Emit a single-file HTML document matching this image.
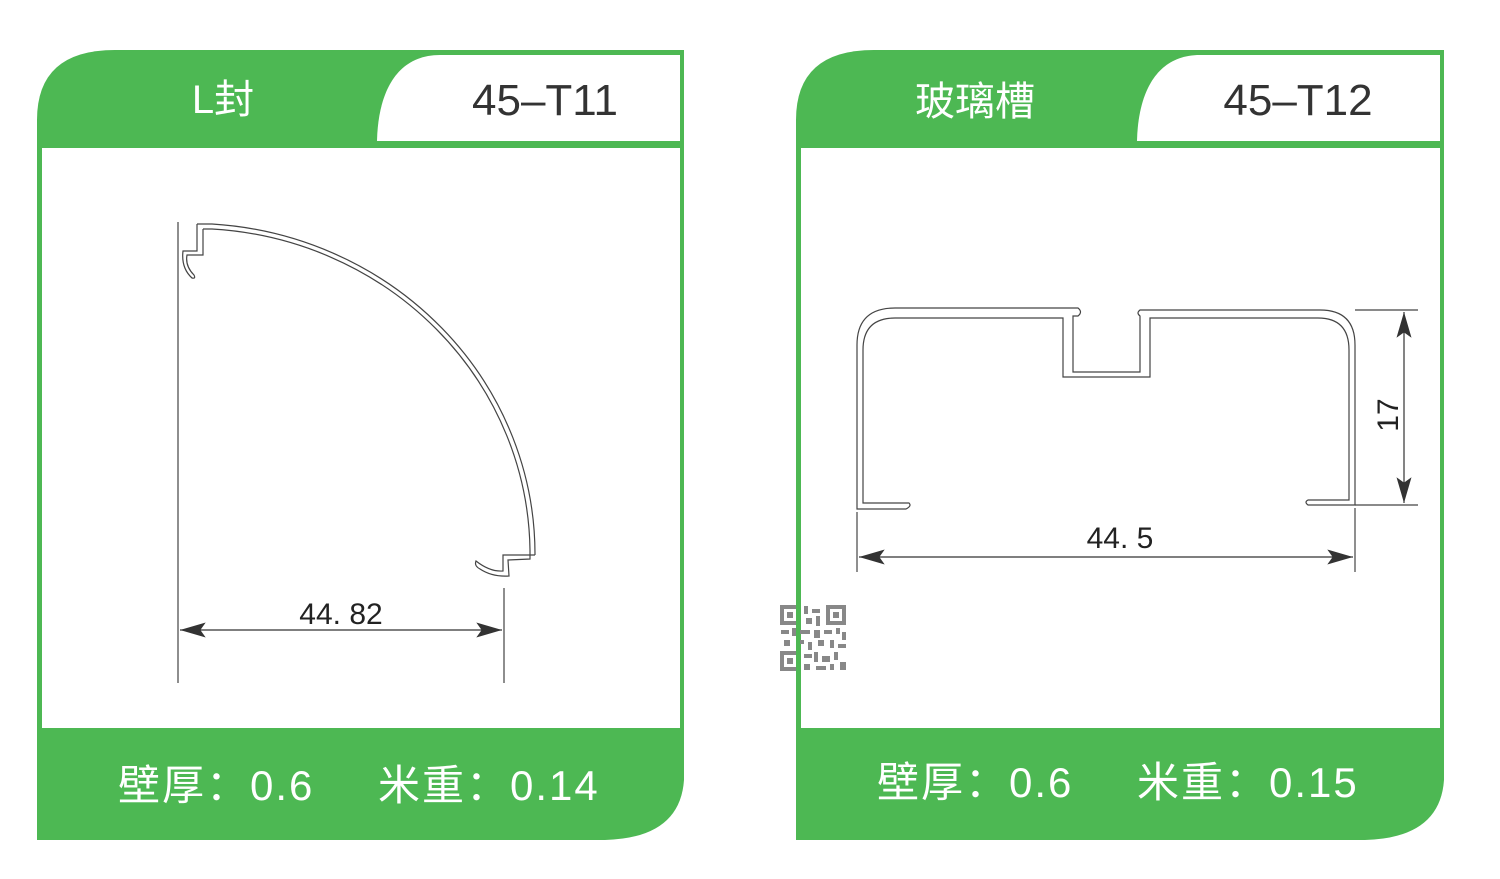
<!DOCTYPE html>
<html><head><meta charset="utf-8"><style>
html,body{margin:0;padding:0;background:#fff;width:1500px;height:879px;overflow:hidden}
svg{display:block}
.cn{font-family:"Liberation Sans","Noto Sans CJK SC",sans-serif}
</style></head><body>
<svg width="1500" height="879" viewBox="0 0 1500 879" xmlns="http://www.w3.org/2000/svg">
<defs>
<marker id="ar" viewBox="0 0 24 14" refX="24" refY="7" markerWidth="26" markerHeight="15" markerUnits="userSpaceOnUse" orient="auto-start-reverse"><path d="M0,0 L24,7 L0,14 L5,7 Z" fill="#333"/></marker>
</defs>
<!-- LEFT CARD -->
<path d="M37,120 Q37,50 115,50 L684,50 L684,780 Q680,838 605,840 L37,840 Z" fill="#4db853"/>
<rect x="42" y="148" width="638" height="580" fill="#fff"/>
<path d="M377,141 C378,95 395,55 440,55 L680,55 L680,141 Z" fill="#fff"/>
<text x="223" y="113" class="cn" font-size="40" fill="#fff" text-anchor="middle">L封</text>
<text x="545" y="115" font-family="Liberation Sans" font-size="44" fill="#333" text-anchor="middle">45–T11</text>
<text x="118" y="800" class="cn" font-size="42" fill="#fff" letter-spacing="2">壁厚：0.6</text>
<text x="378" y="800" class="cn" font-size="42" fill="#fff" letter-spacing="2">米重：0.14</text>

<g fill="none" stroke="#444" stroke-width="1.2">
<line x1="178" y1="222" x2="178" y2="683"/>
<line x1="504" y1="588" x2="504" y2="683"/>
<path d="M197,224 L212,224 A345 331 0 0 1 535 555"/>
<path d="M203,229 L212,229 A338 326 0 0 1 530 550"/>
<path d="M197,224 L197,251 L183,251 Q181,268 192,278 Q196,279 194,275 Q185,266 187,255 L203,255 L203,229"/>
<path d="M535,555 L503,555 L503,571 Q490,572 476,561 Q474,566 480,569 Q492,577 509,576 L508,560 L530,559 L530,550"/>
<line x1="180" y1="630" x2="502" y2="630" marker-start="url(#ar)" marker-end="url(#ar)" stroke="#333"/>
</g>
<text x="341" y="624" font-family="Liberation Sans" font-size="30" fill="#222" text-anchor="middle">44. 82</text>

<!-- RIGHT CARD -->
<path d="M796,120 Q796,50 874,50 L1444,50 L1444,780 Q1440,838 1365,840 L796,840 Z" fill="#4db853"/>
<rect x="801" y="148" width="639" height="580" fill="#fff"/>
<path d="M1137,141 C1138,95 1155,55 1200,55 L1440,55 L1440,141 Z" fill="#fff"/>
<text x="975" y="115" class="cn" font-size="40" fill="#fff" text-anchor="middle">玻璃槽</text>
<text x="1298" y="115" font-family="Liberation Sans" font-size="44" fill="#333" text-anchor="middle">45–T12</text>
<text x="877" y="797" class="cn" font-size="42" fill="#fff" letter-spacing="2">壁厚：0.6</text>
<text x="1137" y="797" class="cn" font-size="42" fill="#fff" letter-spacing="2">米重：0.15</text>

<g fill="none" stroke="#444" stroke-width="1.2">
<path d="M909,503 L863,503 L863,350 Q863,318 895,318 L1063,318 L1063,377 L1150,377 L1150,318 L1318,318 Q1349,318 1349,350 L1349,500 L1308,500 Q1304,502 1308,505 L1355,505 L1355,345 Q1355,310 1320,310 L1140,310 Q1136,313 1140,316 L1140,372 L1073,372 L1073,316 L1078,316 Q1083,312 1078,308 L895,308 Q857,308 857,345 L857,509 L906,509 Q912,506 909,503 Z"/>
<line x1="857" y1="512" x2="857" y2="572"/>
<line x1="1355" y1="508" x2="1355" y2="572"/>
<line x1="1355" y1="310" x2="1418" y2="310"/>
<line x1="1355" y1="505" x2="1418" y2="505"/>
<line x1="859" y1="557" x2="1353" y2="557" marker-start="url(#ar)" marker-end="url(#ar)" stroke="#333"/>
<line x1="1404" y1="312" x2="1404" y2="503" marker-start="url(#ar)" marker-end="url(#ar)" stroke="#333"/>
</g>
<text x="1120" y="548" font-family="Liberation Sans" font-size="30" fill="#222" text-anchor="middle">44. 5</text>
<text x="0" y="0" font-family="Liberation Sans" font-size="30" fill="#222" text-anchor="middle" transform="translate(1398,415) rotate(-90)">17</text>

<!-- QR -->
<g fill="#888">
<rect x="780" y="605" width="20" height="20"/><rect x="784" y="609" width="12" height="12" fill="#fff"/><rect x="787" y="612" width="6" height="6"/>
<rect x="826" y="605" width="20" height="20"/><rect x="830" y="609" width="12" height="12" fill="#fff"/><rect x="833" y="612" width="6" height="6"/>
<rect x="780" y="651" width="20" height="20"/><rect x="784" y="655" width="12" height="12" fill="#fff"/><rect x="787" y="658" width="6" height="6"/>
<rect x="804" y="606" width="4" height="8"/><rect x="812" y="609" width="8" height="4"/><rect x="806" y="618" width="6" height="6"/><rect x="816" y="616" width="4" height="10"/>
<rect x="781" y="630" width="8" height="4"/><rect x="792" y="628" width="4" height="8"/><rect x="800" y="630" width="10" height="4"/><rect x="814" y="630" width="6" height="8"/>
<rect x="824" y="630" width="8" height="4"/><rect x="836" y="628" width="4" height="6"/><rect x="842" y="632" width="4" height="8"/>
<rect x="784" y="640" width="6" height="6"/><rect x="796" y="640" width="8" height="4"/><rect x="808" y="642" width="4" height="8"/><rect x="818" y="640" width="6" height="6"/>
<rect x="830" y="640" width="4" height="8"/><rect x="838" y="644" width="8" height="4"/>
<rect x="804" y="654" width="8" height="4"/><rect x="814" y="652" width="4" height="10"/><rect x="822" y="656" width="8" height="6"/><rect x="834" y="652" width="4" height="8"/>
<rect x="804" y="664" width="6" height="6"/><rect x="816" y="666" width="10" height="4"/><rect x="830" y="664" width="4" height="6"/><rect x="840" y="662" width="6" height="8"/>
</g>
<line x1="798" y1="600" x2="798" y2="680" stroke="#4db853" stroke-width="4"/>
</svg>
</body></html>
